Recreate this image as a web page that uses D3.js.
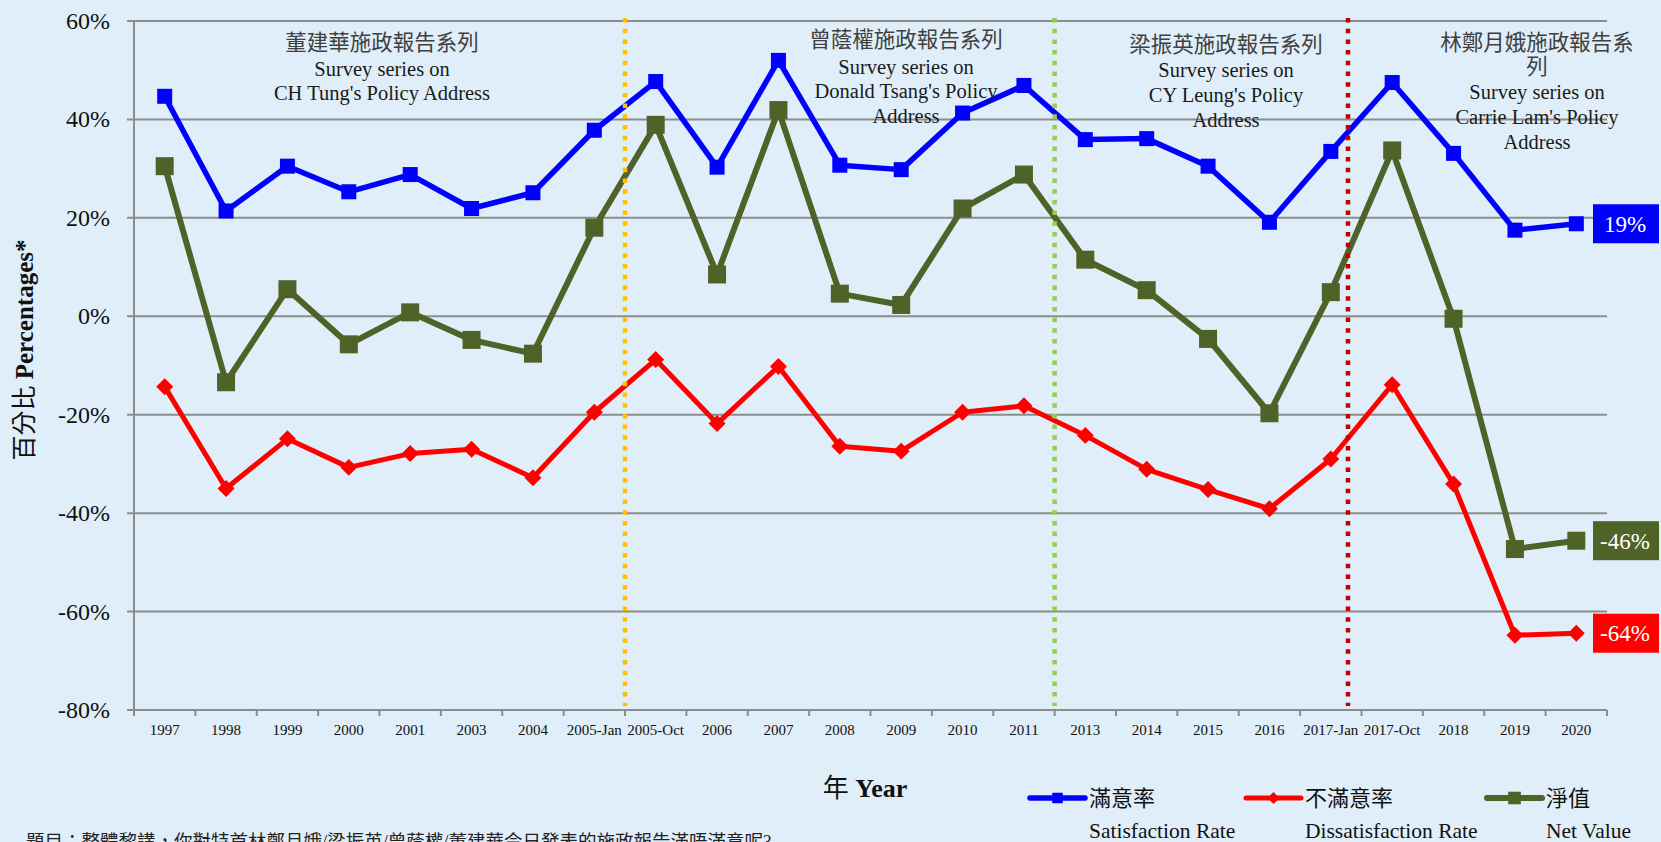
<!DOCTYPE html>
<html>
<head>
<meta charset="utf-8">
<script src="https://cdn.jsdelivr.net/npm/d3@7"></script>
<style>
	body { margin: 0; background: #E0EEF9; overflow: hidden; }
	svg { display: block; }
	text { font-family: "Liberation Serif", "Times New Roman", "Noto Sans CJK TC", serif; }
</style>
</head>
<body>
<div id="chart"></div>
<script>
// Survey years / rounds
const categories = ["1997", "1998", "1999", "2000", "2001", "2003", "2004", "2005-Jan", "2005-Oct",
	"2006", "2007", "2008", "2009", "2010", "2011", "2013", "2014", "2015", "2016",
	"2017-Jan", "2017-Oct", "2018", "2019", "2020"];

// Percentages
const satisfaction = [44.7, 21.4, 30.5, 25.3, 28.8, 21.9, 25.1, 37.8, 47.7,
	30.3, 52.0, 30.7, 29.8, 41.3, 46.9, 35.9, 36.1, 30.5, 19.1,
	33.5, 47.5, 33.1, 17.5, 18.8];
const dissatisfaction = [-14.3, -35.0, -24.9, -30.7, -27.9, -27.0, -32.8, -19.5, -8.8,
	-21.8, -10.2, -26.4, -27.4, -19.5, -18.2, -24.2, -31.1, -35.2, -39.1,
	-29.0, -13.9, -34.1, -64.8, -64.4];
const netValue = [30.5, -13.4, 5.5, -5.7, 0.8, -4.8, -7.6, 18.0, 38.9,
	8.5, 41.9, 4.6, 2.3, 21.9, 28.8, 11.5, 5.3, -4.6, -19.7,
	4.9, 33.7, -0.5, -47.3, -45.6];

const yTicks = [-80, -60, -40, -20, 0, 20, 40, 60];

// Term header notes
const termNotes = [
	["董建華施政報告系列", "Survey series on", "CH Tung's Policy Address"],
	["曾蔭權施政報告系列", "Survey series on", "Donald Tsang's Policy", "Address"],
	["梁振英施政報告系列", "Survey series on", "CY Leung's Policy", "Address"],
	["林鄭月娥施政報告系", "列", "Survey series on", "Carrie Lam's Policy", "Address"]
];
// first round of each new term
const termStarts = ["2005-Oct", "2013", "2017-Oct"];

const seriesNames = [["滿意率", "Satisfaction Rate"], ["不滿意率", "Dissatisfaction Rate"], ["淨值", "Net Value"]];
const endLabels = ["19%", "-64%", "-46%"];

const question = "題目：整體黎講，你對特首林鄭月娥/梁振英/曾蔭權/董建華今日發表的施政報告滿唔滿意呢?";

const width = 1661, height = 842;
const isCJK = s => /[\u4e00-\u9fff]/.test(s);

const svg = d3.select("#chart").append("svg")
	.attr("width", width)
	.attr("height", height);

svg.append("rect")
	.attr("width", width)
	.attr("height", height)
	.attr("fill", "#E0EEF9");

const x = d3.scaleBand().domain(categories).range([134, 1607]);
const y = d3.scaleLinear().domain([-80, 60]).range([710, 21]);
const cx = d => x(d) + x.bandwidth() / 2;

// Gridlines + y labels
const grid = svg.append("g");
grid.selectAll("line")
	.data(yTicks)
	.enter().append("line")
	.attr("x1", 127)
	.attr("x2", 1607)
	.attr("y1", d => y(d))
	.attr("y2", d => y(d))
	.attr("stroke", "#8c8c8c")
	.attr("stroke-width", 2);

grid.selectAll("text")
	.data(yTicks)
	.enter().append("text")
	.attr("x", 110)
	.attr("y", d => y(d) + 8)
	.attr("text-anchor", "end")
	.attr("font-size", 24)
	.attr("fill", "#111")
	.text(d => d + "%");

// y axis line
svg.append("line")
	.attr("x1", 134).attr("x2", 134)
	.attr("y1", y(60)).attr("y2", y(-80))
	.attr("stroke", "#8c8c8c")
	.attr("stroke-width", 2);

// x ticks at band boundaries
const bounds = categories.map(c => x(c)).concat([x.range()[1]]);
svg.append("g").selectAll("line")
	.data(bounds)
	.enter().append("line")
	.attr("x1", d => d).attr("x2", d => d)
	.attr("y1", y(-80)).attr("y2", y(-80) + 6)
	.attr("stroke", "#8c8c8c")
	.attr("stroke-width", 2);

svg.append("g").selectAll("text")
	.data(categories)
	.enter().append("text")
	.attr("x", d => cx(d))
	.attr("y", 735)
	.attr("text-anchor", "middle")
	.attr("font-size", 15)
	.attr("fill", "#111")
	.text(d => d);

// Series
const line = d3.line()
	.x((d, i) => cx(categories[i]))
	.y(d => y(d));

const series = [
	{ values: satisfaction, color: "#0000FF", width: 5.5, marker: "square", size: 15 },
	{ values: dissatisfaction, color: "#FF0000", width: 5, marker: "diamond", size: 12 },
	{ values: netValue, color: "#4F6228", width: 6, marker: "square", size: 18 }
];

function drawMarker(g, s, px, py) {
	if (s.marker === "square") {
		g.append("rect")
			.attr("x", px - s.size / 2)
			.attr("y", py - s.size / 2)
			.attr("width", s.size)
			.attr("height", s.size)
			.attr("fill", s.color);
	} else {
		g.append("rect")
			.attr("x", -s.size / 2)
			.attr("y", -s.size / 2)
			.attr("width", s.size)
			.attr("height", s.size)
			.attr("fill", s.color)
			.attr("transform", "translate(" + px + "," + py + ") rotate(45)");
	}
}

series.forEach(s => {
	const g = svg.append("g");
	g.append("path")
		.datum(s.values)
		.attr("d", line)
		.attr("fill", "none")
		.attr("stroke", s.color)
		.attr("stroke-width", s.width)
		.attr("stroke-linejoin", "round");
	s.values.forEach((v, i) => drawMarker(g, s, cx(categories[i]), y(v)));
});

// Term separators (dotted)
const sepColors = ["#FFC000", "#92D050", "#C00000"];
const sepOffsets = [0, 0, -0.22]; // the 2017 line sits a bit left of the tick
termStarts.forEach((c, i) => {
	const sx = x(c) + sepOffsets[i] * x.bandwidth();
	svg.append("line")
		.attr("x1", sx).attr("x2", sx)
		.attr("y1", 18).attr("y2", 706)
		.attr("stroke", sepColors[i])
		.attr("stroke-width", 4.5)
		.attr("stroke-dasharray", "4.5 6.2");
});

// Term notes
const notePos = [[382, [50, 76, 100]], [906, [47, 74, 98, 123]], [1226, [52, 77, 102, 127]], [1537, [50, 74, 99, 124, 149]]];
termNotes.forEach((lines, i) => {
	const t = svg.append("text")
		.attr("text-anchor", "middle")
		.attr("fill", "#1a1a1a");
	lines.forEach((l, j) => {
		t.append("tspan")
			.attr("x", notePos[i][0])
			.attr("y", notePos[i][1][j])
			.attr("font-size", isCJK(l) ? 21.5 : 20.5)
			.attr("fill", isCJK(l) ? "#404040" : "#1a1a1a")
			.text(l);
	});
});

// End value labels
series.forEach((s, i) => {
	const last = s.values[s.values.length - 1];
	const g = svg.append("g").attr("transform", "translate(1593," + y(last) + ")");
	g.append("rect")
		.attr("x", 0).attr("y", -19.5)
		.attr("width", 66).attr("height", 39)
		.attr("fill", s.color);
	g.append("text")
		.attr("x", 32)
		.attr("y", 8)
		.attr("text-anchor", "middle")
		.attr("font-size", 23)
		.attr("fill", "#fff")
		.text(endLabels[i]);
});

// Axis titles
svg.append("text")
	.attr("transform", "translate(33,350) rotate(-90)")
	.attr("text-anchor", "middle")
	.attr("font-size", 25)
	.attr("fill", "#111")
	.call(t => {
		t.append("tspan").text("百分比 ");
		t.append("tspan").attr("font-weight", "bold").text("Percentages*");
	});

svg.append("text")
	.attr("x", 865)
	.attr("y", 797)
	.attr("text-anchor", "middle")
	.attr("font-size", 26)
	.attr("fill", "#111")
	.call(t => {
		t.append("tspan").text("年 ");
		t.append("tspan").attr("font-weight", "bold").text("Year");
	});

// Legend
const legendX = [1030, 1246, 1487];
series.forEach((s, i) => {
	const g = svg.append("g").attr("transform", "translate(" + legendX[i] + ",798)");
	g.append("line")
		.attr("x1", 0).attr("x2", 55)
		.attr("stroke", s.color)
		.attr("stroke-width", s.width)
		.attr("stroke-linecap", "round");
	drawMarker(g, { marker: s.marker, color: s.color, size: s.size * 0.7 }, 27.5, 0);
	g.append("text")
		.attr("x", 59)
		.attr("y", 8)
		.attr("font-size", 22)
		.attr("fill", "#111")
		.text(seriesNames[i][0]);
	g.append("text")
		.attr("x", 59)
		.attr("y", 40)
		.attr("font-size", 21.5)
		.attr("fill", "#111")
		.text(seriesNames[i][1]);
});

// Question (cut off at the bottom edge, as in the source)
svg.append("text")
	.attr("x", 26)
	.attr("y", 848)
	.attr("font-size", 18.5)
	.attr("fill", "#222")
	.text(question);
</script>
</body>
</html>
